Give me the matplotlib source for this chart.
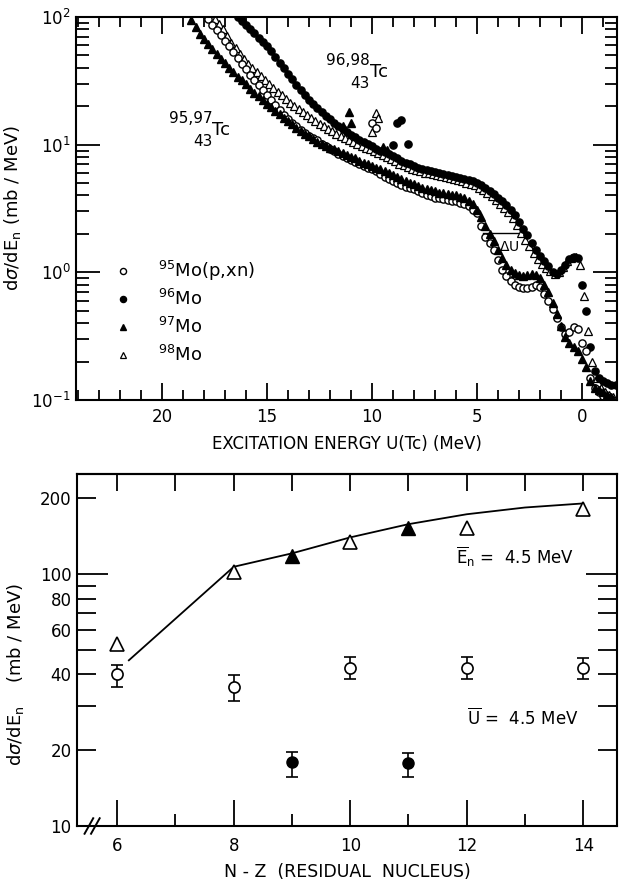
import numpy as np
import matplotlib.pyplot as plt
from matplotlib.ticker import MultipleLocator, LogLocator

STEP = 0.2  # bin width of the neutron spectra (MeV)

# --- upper panel: neutron spectra vs. excitation energy of the residual Tc ---
# 95Mo(p,xn) -> open circles
u0_95 = 17.8
s_95 = [97, 87, 79, 72, 65, 59, 53, 48, 43, 39,
        35, 32, 29.5, 27, 24.5, 22.5, 20.5, 18.8, 17.2, 16.0,
        14.9, 13.9, 13.1, 12.4, 11.8, 11.3, 10.8, 10.2, 9.7, 9.3,
        8.9, 8.5, 8.2, 7.9, 7.6, 7.3, 7.0, 6.8, 6.6, 6.4,
        6.2, 5.9, 5.6, 5.4, 5.2, 5.0, 4.85, 4.7, 4.6, 4.5,
        4.35, 4.2, 4.05, 3.95, 3.85, 3.8, 3.75, 3.7, 3.65, 3.6,
        3.5, 3.4, 3.3, 3.1, 2.9, 2.3, 1.9, 1.7, 1.5, 1.25,
        1.05, 0.93, 0.86, 0.8, 0.77, 0.76, 0.76, 0.77, 0.79, 0.77,
        0.68, 0.6, 0.52, 0.44, 0.37, 0.33, 0.34, 0.37, 0.36, 0.28,
        0.24, 0.15, 0.125, 0.115, 0.107, 0.105, 0.102]

# 96Mo -> filled circles
u0_96 = 16.4
s_96 = [100, 93, 86, 80, 75, 69, 64, 59, 54, 49,
        44, 40, 36, 32.5, 29.5, 27, 24.5, 22.5, 20.8, 19.3,
        18.0, 16.8, 15.8, 14.9, 14.0, 13.2, 12.5, 11.9, 11.4, 10.9,
        10.5, 10.1, 9.7, 9.3, 9.0, 8.7, 8.4, 8.1, 7.8, 7.5,
        7.2, 7.0, 6.8, 6.6, 6.45, 6.3, 6.2, 6.1, 6.0, 5.9,
        5.8, 5.7, 5.6, 5.5, 5.4, 5.3, 5.15, 5.0, 4.8, 4.6,
        4.35, 4.1, 3.85, 3.6, 3.35, 3.1, 2.8, 2.5, 2.2, 1.95,
        1.7, 1.5, 1.35, 1.22, 1.12, 1.0, 0.97, 1.05, 1.15, 1.28,
        1.33, 1.3, 0.8, 0.5, 0.26, 0.17, 0.15, 0.14, 0.135, 0.13,
        0.13]

# 97Mo -> filled triangles
u0_97 = 18.6
s_97 = [94, 84, 74, 67, 61, 56, 51, 47, 44, 40,
        37, 34, 32, 30, 27.5, 25.5, 24, 22.5, 21, 19.8,
        18.5, 17.3, 16.3, 15.3, 14.4, 13.6, 12.9, 12.2, 11.6, 11.0,
        10.5, 10.1, 9.8, 9.5, 9.2, 8.9, 8.6, 8.3, 8.0, 7.8,
        7.5, 7.2, 7.0, 6.8, 6.6, 6.4, 6.2, 6.0, 5.8, 5.6,
        5.4, 5.2, 5.0, 4.9, 4.75, 4.6, 4.5, 4.4, 4.3, 4.2,
        4.15, 4.1, 4.05, 4.0, 3.9, 3.8, 3.6, 3.4, 3.1, 2.7,
        2.3, 2.0, 1.75, 1.5, 1.3, 1.15, 1.05, 0.98, 0.95, 0.93,
        0.95, 0.97, 0.95, 0.9, 0.8, 0.7, 0.58, 0.47, 0.38, 0.31,
        0.28, 0.26, 0.24, 0.21, 0.18, 0.14, 0.125, 0.12, 0.115, 0.11,
        0.105]

# 98Mo -> open triangles
u0_98 = 17.5
s_98 = [96, 88, 81, 71, 63, 57, 51, 47, 43, 40,
        37, 34.5, 32, 30, 28, 26, 24.3, 22.7, 21.3, 20.0,
        18.9, 17.9, 17.0, 16.1, 15.3, 14.6, 13.9, 13.3, 12.7, 12.2,
        11.7, 11.3, 10.9, 10.5, 10.1, 9.8, 9.5, 9.2, 8.9, 8.6,
        8.3, 8.0, 7.7, 7.4, 7.1, 6.9, 6.7, 6.5, 6.35, 6.2,
        6.05, 5.95, 5.85, 5.75, 5.65, 5.55, 5.45, 5.35, 5.25, 5.15,
        5.05, 4.95, 4.8, 4.6, 4.4, 4.2, 3.95, 3.7, 3.45, 3.2,
        2.95, 2.65, 2.35, 2.05, 1.8, 1.6, 1.42, 1.28, 1.17, 1.08,
        1.02, 0.97, 1.0, 1.1, 1.22, 1.3, 1.32, 1.15, 0.65, 0.35,
        0.2, 0.15, 0.125, 0.115, 0.11, 0.105]

# isolated peaks standing above the continua
pk_95_u, pk_95 = [10.0, 9.8], [14.8, 13.6]
pk_96_u, pk_96 = [9.0, 8.8, 8.6, 8.3], [10.0, 14.8, 15.7, 10.2]
pk_97_u, pk_97 = [11.4, 11.1, 11.0, 9.5, 9.3], [14.1, 18.1, 14.8, 9.6, 9.1]
pk_98_u, pk_98 = [10.0, 9.8, 9.7], [12.6, 17.8, 16.2]

legend_labels = [r'$^{95}$Mo(p,xn)', r'$^{96}$Mo', r'$^{97}$Mo', r'$^{98}$Mo']

# --- lower panel: dsigma/dE_n vs N-Z of the residual nucleus ---
nz_open_tri = [6, 8, 10, 12, 14]
val_open_tri = [53, 102, 134, 152, 181]
nz_full_tri = [9, 11]
val_full_tri = [118, 152]
nz_line = [6.2, 8, 9, 10, 11, 12, 13, 14]
val_line = [45.5, 107, 121, 140, 158, 173, 184, 191]

nz_open_circ = [6, 8, 10, 12, 14]
val_open_circ = [40, 35.6, 42.3, 42.3, 42.5]
err_open_lo = [4.4, 4.3, 4.0, 4.0, 4.0]
err_open_hi = [3.6, 4.1, 4.5, 4.5, 4.0]
nz_full_circ = [9, 11]
val_full_circ = [17.9, 17.8]
err_full_lo = [2.3, 2.2]
err_full_hi = [1.8, 1.7]


def energies(u0, vals):
    return u0 - STEP * np.arange(len(vals))


open_c = dict(marker='o', mfc='white', mec='black', mew=1.0, ls='none', ms=5.2)
full_c = dict(marker='o', mfc='black', mec='black', ls='none', ms=5.2)
full_t = dict(marker='^', mfc='black', mec='black', ls='none', ms=5.6)
open_t = dict(marker='^', mfc='white', mec='black', mew=0.9, ls='none', ms=5.4)

fig = plt.figure(figsize=(6.2, 8.82), dpi=100)
ax1 = fig.add_axes([0.1226, 0.5465, 0.8726, 0.4342])
ax2 = fig.add_axes([0.1242, 0.0635, 0.8710, 0.3991])

# upper panel
ax1.plot(energies(u0_98, s_98), s_98, **open_t)
ax1.plot(pk_98_u, pk_98, **open_t)
ax1.plot(energies(u0_96, s_96), s_96, **full_c)
ax1.plot(pk_96_u, pk_96, **full_c)
ax1.plot(energies(u0_95, s_95), s_95, **open_c)
ax1.plot(pk_95_u, pk_95, **open_c)
ax1.plot(energies(u0_97, s_97), s_97, **full_t)
ax1.plot(pk_97_u, pk_97, **full_t)

ax1.set_yscale('log')
ax1.set_ylim(0.1, 100)
ax1.set_xlim(24.1, -1.67)
ax1.xaxis.set_major_locator(MultipleLocator(5))
ax1.xaxis.set_minor_locator(MultipleLocator(1))
ax1.yaxis.set_major_locator(LogLocator(base=10, numticks=10))
ax1.yaxis.set_minor_locator(LogLocator(base=10, subs=np.arange(2, 10), numticks=10))
ax1.tick_params(which='both', direction='in', top=True, right=True, width=1.3,
                labelsize=12)
ax1.tick_params(axis='x', which='major', length=12, pad=6)
ax1.tick_params(axis='x', which='minor', length=7)
ax1.tick_params(axis='y', which='major', length=17, pad=4)
ax1.tick_params(axis='y', which='minor', length=9)
ax1.set_xlabel('EXCITATION ENERGY U(Tc) (MeV)', fontsize=12, labelpad=6)
ax1.set_ylabel(r'd$\sigma$/dE$_\mathrm{n}$ (mb / MeV)', fontsize=13, labelpad=6)

# legend drawn by hand inside the frame
styles = [open_c, full_c, full_t, open_t]
ys = [0.337, 0.263, 0.190, 0.118]
for st, lab, yy in zip(styles, legend_labels, ys):
    ax1.plot([0.087], [yy], transform=ax1.transAxes, **{**st, 'ms': 4.4})
    ax1.text(0.152, yy, lab, transform=ax1.transAxes, fontsize=13, va='center')

# isotope tags
for (u, v, top, bot) in [(17.6, 13.1, '95,97', '43'), (10.1, 37.2, '96,98', '43')]:
    ax1.text(u, v, 'Tc', fontsize=13, ha='left', va='center')
    ax1.annotate(top, (u, v), xytext=(0, 3), textcoords='offset points',
                 fontsize=11, ha='right', va='bottom')
    ax1.annotate(bot, (u, v), xytext=(0, -3), textcoords='offset points',
                 fontsize=11, ha='right', va='top')

# shift between the two shoulders
ax1.plot([4.71, 3.05], [2.05, 2.05], color='black', lw=1.0)
ax1.text(3.45, 1.58, r'$\Delta$U', fontsize=10, ha='center', va='center')

# lower panel
ax2.plot(nz_line, val_line, color='black', lw=1.3)
ax2.plot(nz_open_tri, val_open_tri, marker='^', mfc='white', mec='black', mew=1.2,
         ls='none', ms=10)
ax2.plot(nz_full_tri, val_full_tri, marker='^', mfc='black', mec='black',
         ls='none', ms=10)
ax2.errorbar(nz_open_circ, val_open_circ, yerr=[err_open_lo, err_open_hi], fmt='o',
             mfc='white', mec='black', mew=1.2, ms=8, ecolor='black', elinewidth=1.2,
             capsize=4, capthick=1.2)
ax2.errorbar(nz_full_circ, val_full_circ, yerr=[err_full_lo, err_full_hi], fmt='o',
             mfc='black', mec='black', ms=8, ecolor='black', elinewidth=1.2,
             capsize=4, capthick=1.2)

ax2.set_yscale('log')
ax2.set_ylim(10, 250)
ax2.set_xlim(5.31, 14.58)
ax2.set_xticks([6, 8, 10, 12, 14])
ax2.set_xticks([7, 9, 11, 13], minor=True)
ax2.set_yticks([10, 100])
ax2.set_yticklabels(['10', '100'])
ax2.set_yticks([20, 30, 40, 50, 60, 70, 80, 90, 200], minor=True)
ax2.set_yticklabels(['20', '', '40', '', '60', '', '80', '', '200'], minor=True)
ax2.tick_params(which='both', direction='in', top=False, right=True, width=1.3,
                labelsize=12)
ax2.tick_params(axis='x', which='major', length=19, pad=8)
ax2.tick_params(axis='x', which='minor', length=9)
ax2.tick_params(axis='y', which='major', length=22, pad=4)
ax2.tick_params(axis='y', which='minor', length=14, pad=4)
top = ax2.secondary_xaxis('top')
top.set_xticks(range(6, 15))
top.set_xticklabels([])
top.tick_params(direction='in', length=12, width=1.3)
ax2.set_xlabel('N - Z  (RESIDUAL  NUCLEUS)', fontsize=12.5, labelpad=6)
ax2.set_ylabel(r'd$\sigma$/dE$_\mathrm{n}$    (mb / MeV)', fontsize=13, labelpad=6)
ax2.yaxis.set_label_coords(-0.095, 0.43)

ax2.text(11.81, 117, r'$\overline{\mathrm{E}}_\mathrm{n}$ =  4.5 MeV', fontsize=12,
         ha='left', va='center')
ax2.text(12.0, 26.8, r'$\overline{\mathrm{U}}$ =  4.5 MeV', fontsize=12,
         ha='left', va='center')

# axis break on the abscissa
for xb in (0.022, 0.034):
    ax2.plot([xb - 0.008, xb + 0.008], [-0.022, 0.022], transform=ax2.transAxes,
             color='black', lw=1.4, clip_on=False)

for ax in (ax1, ax2):
    for sp in ax.spines.values():
        sp.set_linewidth(1.5)
top.spines['top'].set_linewidth(1.5)

fig.savefig('out.png', dpi=100)
